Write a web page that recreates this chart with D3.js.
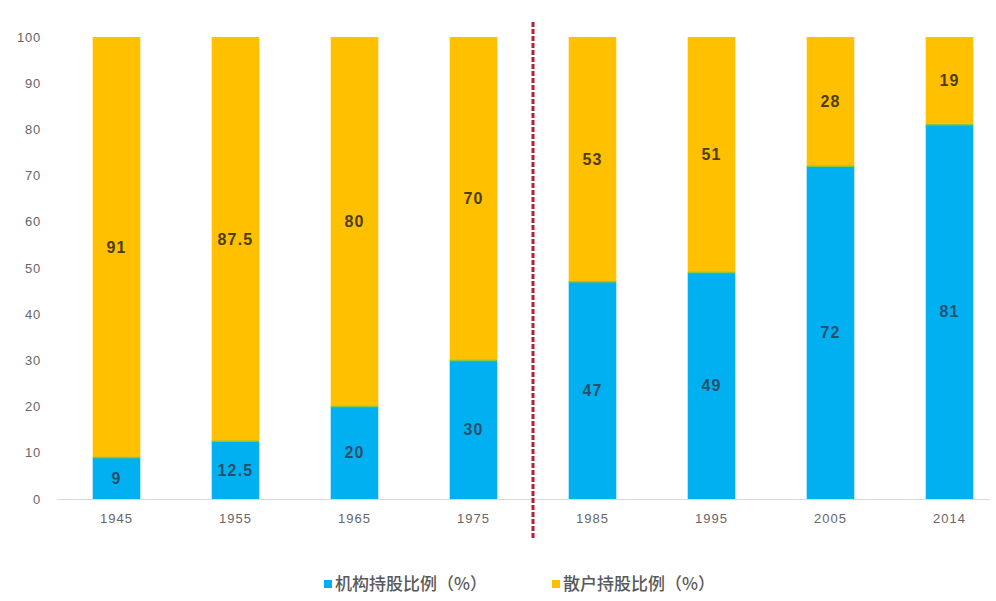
<!DOCTYPE html>
<html lang="zh">
<head>
<meta charset="utf-8">
<title>机构与散户持股比例</title>
<script src="https://cdn.jsdelivr.net/npm/d3@7/dist/d3.min.js"></script>
<style>
  body { margin: 0; background: #fff; }
  svg { display: block; }
</style>
</head>
<body>
<script>
// data
const years = ["1945", "1955", "1965", "1975", "1985", "1995", "2005", "2014"];
const institutional = [9, 12.5, 20, 30, 47, 49, 72, 81];
const retail = [91, 87.5, 80, 70, 53, 51, 28, 19];
const yTicks = [0, 10, 20, 30, 40, 50, 60, 70, 80, 90, 100];
const seriesNames = ["机构持股比例（%）", "散户持股比例（%）"];

const w = 996, h = 601;
const blue = "#00b0f0", gold = "#ffc000";
const numFont = "Liberation Sans, Arial, sans-serif";

const svg = d3.select("body").append("svg")
  .attr("width", w)
  .attr("height", h);

const x = d3.scaleBand()
  .domain(years)
  .range([57, 1009])
  .paddingInner(0.6)
  .paddingOuter(0.3);

const y = d3.scaleLinear()
  .domain([0, 100])
  .range([499, 37]);

// y axis labels only
const yAxis = svg.append("g")
  .attr("transform", "translate(41,0)")
  .call(d3.axisLeft(y).tickValues(yTicks).tickSize(0).tickPadding(0));
yAxis.select(".domain").remove();
yAxis.selectAll("text")
  .attr("font-family", numFont)
  .attr("font-size", 13)
  .attr("letter-spacing", 0.8)
  .attr("fill", "#666");

// baseline
svg.append("line")
  .attr("x1", 57).attr("x2", 990)
  .attr("y1", y(0) + 0.5).attr("y2", y(0) + 0.5)
  .attr("stroke", "#d9d9d9");

const xAxis = svg.append("g")
  .attr("transform", "translate(0," + (y(0) + 12) + ")")
  .call(d3.axisBottom(x).tickSize(0).tickPadding(3));
xAxis.select(".domain").remove();
xAxis.selectAll("text")
  .attr("font-family", numFont)
  .attr("font-size", 13)
  .attr("letter-spacing", 1)
  .attr("fill", "#666");

const rows = years.map((yr, i) => ({ year: yr, inst: institutional[i], retail: retail[i] }));

// institutional (bottom)
svg.selectAll("rect.inst")
  .data(rows)
  .enter()
  .append("rect")
  .attr("class", "inst")
  .attr("x", d => x(d.year))
  .attr("width", x.bandwidth())
  .attr("y", d => y(d.inst))
  .attr("height", d => y(0) - y(d.inst))
  .attr("fill", blue);

// retail (top)
svg.selectAll("rect.retail")
  .data(rows)
  .enter()
  .append("rect")
  .attr("class", "retail")
  .attr("x", d => x(d.year))
  .attr("width", x.bandwidth())
  .attr("y", d => y(d.inst + d.retail))
  .attr("height", d => y(d.inst) - y(d.inst + d.retail))
  .attr("fill", gold);

// thin seam between the two parts
svg.selectAll("line.seam")
  .data(rows)
  .enter()
  .append("line")
  .attr("x1", d => x(d.year))
  .attr("x2", d => x(d.year) + x.bandwidth())
  .attr("y1", d => y(d.inst))
  .attr("y2", d => y(d.inst))
  .attr("stroke", "#8cc63f")
  .attr("stroke-width", 1.5);

// value labels
svg.selectAll("text.instLabel")
  .data(rows)
  .enter()
  .append("text")
  .attr("x", d => x(d.year) + x.bandwidth() / 2)
  .attr("y", d => y(d.inst / 2))
  .attr("dy", "0.35em")
  .attr("text-anchor", "middle")
  .attr("font-family", numFont)
  .attr("font-size", 16)
  .attr("font-weight", "bold")
  .attr("letter-spacing", 1.2)
  .attr("fill", "#27506e")
  .text(d => d.inst);

svg.selectAll("text.retailLabel")
  .data(rows)
  .enter()
  .append("text")
  .attr("x", d => x(d.year) + x.bandwidth() / 2)
  .attr("y", d => y(d.inst + d.retail / 2))
  .attr("dy", "0.35em")
  .attr("text-anchor", "middle")
  .attr("font-family", numFont)
  .attr("font-size", 16)
  .attr("font-weight", "bold")
  .attr("letter-spacing", 1.2)
  .attr("fill", "#4d3d12")
  .text(d => d.retail);

// dashed divider between 1975 and 1985
const divX = (x("1975") + x("1985") + x.bandwidth()) / 2;
svg.append("line")
  .attr("x1", divX).attr("x2", divX)
  .attr("y1", 22).attr("y2", 540)
  .attr("stroke", "#b51f35")
  .attr("stroke-width", 3)
  .attr("stroke-dasharray", "5,2");

// legend
const legend = svg.append("g")
  .attr("transform", "translate(324,584)");
const items = legend.selectAll("g")
  .data(seriesNames)
  .enter()
  .append("g")
  .attr("transform", (d, i) => "translate(" + (i * 228) + ",0)");
items.append("rect")
  .attr("x", 0).attr("y", -4)
  .attr("width", 8).attr("height", 8)
  .attr("fill", (d, i) => i === 0 ? blue : gold);
items.append("text")
  .attr("x", 11)
  .attr("dy", "0.35em")
  .attr("font-family", "Noto Sans CJK SC, sans-serif")
  .attr("font-size", 17)
  .attr("font-weight", 500)
  .attr("fill", "#595959")
  .text(d => d);
</script>
</body>
</html>
